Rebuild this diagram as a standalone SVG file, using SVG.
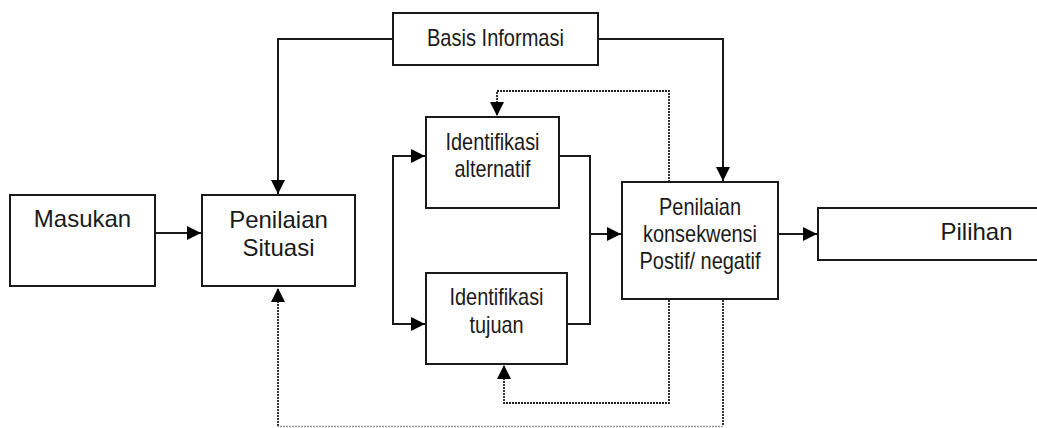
<svg xmlns="http://www.w3.org/2000/svg" width="1037" height="428" viewBox="0 0 1037 428">
<style>
.box{fill:#fff;stroke:#1a1a1a;stroke-width:2}
.t{font-family:"Liberation Sans",Arial,sans-serif;font-size:24px;fill:#1a1a1a;text-anchor:middle}
.ln{fill:none;stroke:#1a1a1a;stroke-width:2}
.dt{fill:none;stroke:#222;stroke-width:1.8;stroke-dasharray:2 1}
.dl{fill:none;stroke:#999;stroke-width:1.5;stroke-dasharray:2 1}
</style>
<defs>
<marker id="ar" markerUnits="userSpaceOnUse" markerWidth="14" markerHeight="14" refX="14" refY="7" orient="auto">
<path d="M0,0 L14,7 L0,14 z" fill="#000"/>
</marker>
</defs>
<rect width="1037" height="428" fill="#fff"/>
<g id="connectors">
<path class="ln" d="M155,233 H201" marker-end="url(#ar)"/>
<path class="ln" d="M393,39 H278 V194" marker-end="url(#ar)"/>
<path class="ln" d="M598,39 H723 V181" marker-end="url(#ar)"/>
<path class="ln" d="M393,240 V156 H425" marker-end="url(#ar)"/>
<path class="ln" d="M393,240 V324 H425" marker-end="url(#ar)"/>
<path class="ln" d="M559,156 H590 V324 H567"/>
<path class="ln" d="M590,234 H621" marker-end="url(#ar)"/>
<path class="ln" d="M778,234 H817" marker-end="url(#ar)"/>
<path class="dt" d="M669,182 V91 H497 V116" marker-end="url(#ar)"/>
<path class="dt" d="M669,300 V403 H504 V365" marker-end="url(#ar)"/>
<path class="dt" d="M723,300 V426"/>
<path class="dl" d="M723,426.5 H278"/>
<path class="dt" d="M278,426 V288" marker-end="url(#ar)"/>
</g>
<g id="basis">
<rect class="box" x="393" y="13" width="205" height="52"/>
<text class="t" x="495.5" y="46" textLength="137" lengthAdjust="spacingAndGlyphs">Basis Informasi</text>
</g>
<g id="masukan">
<rect class="box" x="10" y="195" width="145" height="91"/>
<text class="t" x="82.5" y="227">Masukan</text>
</g>
<g id="penilaian-situasi">
<rect class="box" x="202" y="195" width="153" height="91"/>
<text class="t" x="278.5" y="228">Penilaian</text>
<text class="t" x="278.5" y="256">Situasi</text>
</g>
<g id="identifikasi-alternatif">
<rect class="box" x="426" y="117" width="133" height="91"/>
<text class="t" x="492.5" y="150" textLength="94" lengthAdjust="spacingAndGlyphs">Identifikasi</text>
<text class="t" x="492.5" y="177" textLength="76" lengthAdjust="spacingAndGlyphs">alternatif</text>
</g>
<g id="identifikasi-tujuan">
<rect class="box" x="426" y="273" width="141" height="91"/>
<text class="t" x="496.5" y="305" textLength="94" lengthAdjust="spacingAndGlyphs">Identifikasi</text>
<text class="t" x="496.5" y="333" textLength="54" lengthAdjust="spacingAndGlyphs">tujuan</text>
</g>
<g id="penilaian-konsekwensi">
<rect class="box" x="622" y="182" width="156" height="117"/>
<text class="t" x="700" y="215" textLength="82" lengthAdjust="spacingAndGlyphs">Penilaian</text>
<text class="t" x="700" y="242" textLength="114" lengthAdjust="spacingAndGlyphs">konsekwensi</text>
<text class="t" x="700" y="269" textLength="121" lengthAdjust="spacingAndGlyphs">Postif/ negatif</text>
</g>
<g id="pilihan">
<rect class="box" x="818" y="208" width="230" height="52"/>
<text class="t" x="976.5" y="240">Pilihan</text>
</g>
</svg>
